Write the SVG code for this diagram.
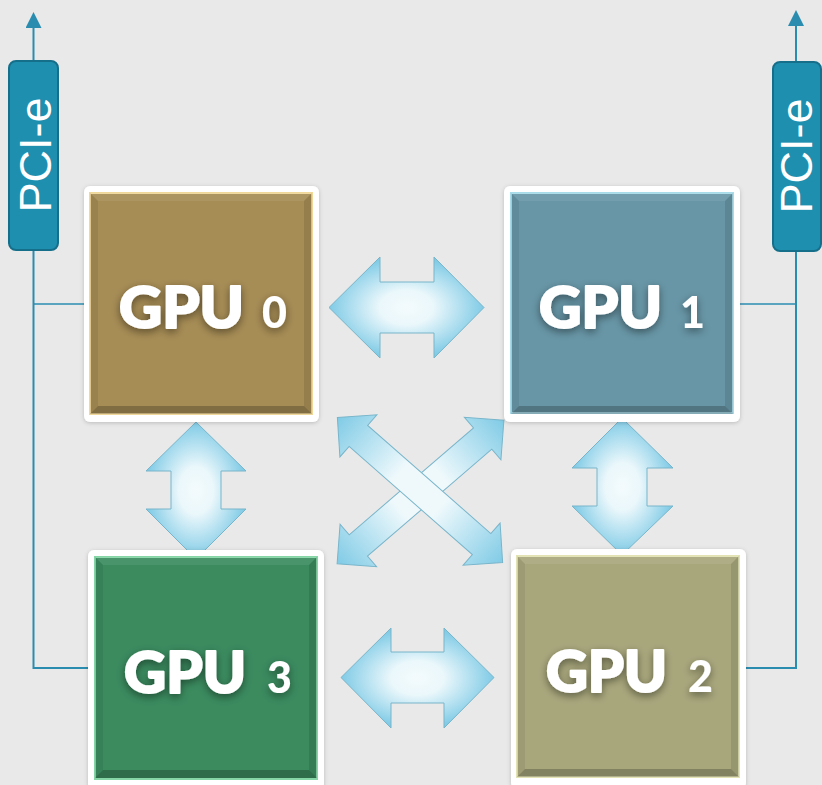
<svg xmlns="http://www.w3.org/2000/svg" width="822" height="785" viewBox="0 0 822 785">
<defs>
<style>
.frame{fill:#ffffff;filter:url(#fshadow)}
.gpu{font-family:Lato,"Open Sans","Liberation Sans",sans-serif;font-weight:900;fill:#ffffff;filter:url(#tshadow)}
.big{font-size:57px;stroke:#ffffff;stroke-width:2;stroke-linejoin:round}
.dig{font-size:43px}
.pci{fill:#1f8fb0;stroke:#166f8a;stroke-width:2}
.pcit{font-family:"Liberation Sans",Arial,sans-serif;font-size:45px;fill:#ffffff}
.wire{stroke:#2a8db0;fill:none}
.arr{stroke:#79b5ca;stroke-width:1}
</style>
<filter id="fshadow" x="-10%" y="-10%" width="120%" height="120%">
<feDropShadow dx="0" dy="1" stdDeviation="2" flood-color="#000" flood-opacity="0.2"/>
</filter>
<filter id="tshadow" x="-20%" y="-30%" width="140%" height="160%">
<feGaussianBlur in="SourceAlpha" stdDeviation="4" result="b"/>
<feOffset in="b" dx="0" dy="3" result="o"/>
<feComponentTransfer in="o" result="s"><feFuncA type="linear" slope="0.45"/></feComponentTransfer>
<feMerge><feMergeNode in="s"/><feMergeNode in="SourceGraphic"/></feMerge>
</filter>
<radialGradient id="rg" cx="0.5" cy="0.5" r="0.5">
<stop offset="0" stop-color="#f4fbfd"/>
<stop offset="0.35" stop-color="#eaf7fb"/>
<stop offset="1" stop-color="#80cbe6"/>
</radialGradient>
<linearGradient id="lg" gradientUnits="userSpaceOnUse" x1="-110" y1="0" x2="110" y2="0">
<stop offset="0" stop-color="#80cbe6"/>
<stop offset="0.38" stop-color="#eff9fc"/>
<stop offset="0.62" stop-color="#eff9fc"/>
<stop offset="1" stop-color="#80cbe6"/>
</linearGradient>
<marker id="ah" viewBox="0 0 16 16" refX="8" refY="8" markerWidth="16" markerHeight="16" markerUnits="userSpaceOnUse" orient="auto">
<path d="M0,0 L16,8 L0,16 Z" fill="#2a8db0"/>
</marker>
<g id="bevel">
<polygon points="0,0 222,0 214,8 8,8" fill="#ffffff" fill-opacity="0.08"/>
<polygon points="0,0 8,8 8,213 0,221" fill="#000000" fill-opacity="0.07"/>
<polygon points="222,0 222,221 214,213 214,8" fill="#000000" fill-opacity="0.1"/>
<polygon points="0,221 8,213 214,213 222,221" fill="#000000" fill-opacity="0.22"/>
</g>
<path id="diag" d="M-110,0 L-82,-28 L-82,-14 L82,-14 L82,-28 L110,0 L82,28 L82,14 L-82,14 L-82,28 Z"/>
</defs>
<rect x="0" y="0" width="822" height="785" fill="#e9e9e9"/>

<g id="connectors">
<line class="wire" x1="33.5" y1="60" x2="33.5" y2="20" stroke-width="2" marker-end="url(#ah)"/>
<polyline class="wire" points="33.5,250 33.5,668 95,668" stroke-width="2"/>
<line class="wire" x1="33.5" y1="304" x2="88" y2="304" stroke-width="1.5"/>
<line class="wire" x1="796" y1="62" x2="796" y2="18" stroke-width="2" marker-end="url(#ah)"/>
<polyline class="wire" points="796,251 796,668 746,668" stroke-width="2"/>
<line class="wire" x1="796" y1="304" x2="735" y2="304" stroke-width="1.5"/>

<path class="arr" fill="url(#rg)" d="M329,307.5 L380,257 L380,282 L434,282 L434,257 L484,307.5 L434,358 L434,333 L380,333 L380,358 Z"/>
<path class="arr" fill="url(#rg)" d="M341,677.5 L391,628 L391,652 L444,652 L444,628 L494,677.5 L444,728 L444,703 L391,703 L391,728 Z"/>
<path class="arr" fill="url(#rg)" d="M196,422 L246,471 L221,471 L221,509 L246,509 L196,559 L146,509 L171,509 L171,471 L146,471 Z"/>
<path class="arr" fill="url(#rg)" d="M622,418 L673,468 L647,468 L647,506 L673,506 L622,555 L572,506 L597,506 L597,468 L572,468 Z"/>
<use href="#diag" class="arr" fill="url(#lg)" transform="translate(420.5,492) rotate(-40.7)"/>
<use href="#diag" class="arr" fill="url(#lg)" transform="translate(420,490) rotate(41.3)"/>
</g>

<g id="pcie-left">
<rect class="pci" x="9" y="61" width="49" height="189" rx="7"/>
<text class="pcit" transform="translate(0,155) rotate(-90)" x="0" y="51" text-anchor="middle">PCI-e</text>
</g>
<g id="pcie-right">
<rect class="pci" x="773" y="62" width="48" height="189" rx="7"/>
<text class="pcit" transform="translate(0,156) rotate(-90)" x="0" y="812" text-anchor="middle">PCI-e</text>
</g>

<g id="gpu0">
<rect class="frame" x="84" y="186" width="235" height="236" rx="6"/>
<rect x="90" y="193" width="222" height="221" fill="#a68c55" stroke="#f0d79a" stroke-width="2"/>
<use href="#bevel" transform="translate(90,193)"/>
<text class="gpu" y="328"><tspan class="big" x="119" textLength="125" lengthAdjust="spacingAndGlyphs">GPU</tspan><tspan class="dig" x="262">0</tspan></text>
</g>
<g id="gpu1">
<rect class="frame" x="504" y="186" width="236" height="236" rx="6"/>
<rect x="511" y="193" width="222" height="220" fill="#6896a6" stroke="#a9dcea" stroke-width="2"/>
<use href="#bevel" transform="translate(511,193)"/>
<text class="gpu" y="328"><tspan class="big" x="539" textLength="123" lengthAdjust="spacingAndGlyphs">GPU</tspan><tspan class="dig" x="680">1</tspan></text>
</g>
<g id="gpu3">
<rect class="frame" x="88" y="550" width="236" height="240" rx="6"/>
<rect x="95" y="557" width="222" height="222" fill="#3b8b5f" stroke="#86d5a6" stroke-width="2"/>
<use href="#bevel" transform="translate(95,557)"/>
<text class="gpu" y="693"><tspan class="big" x="124" textLength="122" lengthAdjust="spacingAndGlyphs">GPU</tspan><tspan class="dig" x="267">3</tspan></text>
</g>
<g id="gpu2">
<rect class="frame" x="511" y="549" width="235" height="240" rx="6"/>
<rect x="517" y="556" width="222" height="221" fill="#a8a77c" stroke="#e2e2b4" stroke-width="2"/>
<use href="#bevel" transform="translate(517,556)"/>
<text class="gpu" y="692"><tspan class="big" x="546" textLength="121" lengthAdjust="spacingAndGlyphs">GPU</tspan><tspan class="dig" x="688">2</tspan></text>
</g>
</svg>
